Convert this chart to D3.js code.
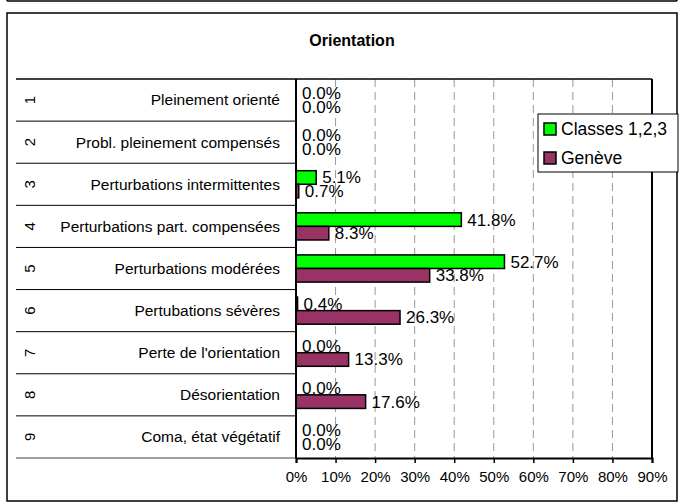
<!DOCTYPE html>
<html>
<head>
<meta charset="utf-8">
<script src="https://cdn.jsdelivr.net/npm/d3@7"></script>
<style>
  body { margin: 0; background: #fff; }
  svg { font-family: "Liberation Sans", Arial, sans-serif; }
</style>
</head>
<body>
<div id="chart"></div>
<script>
const F_WIDTH = 680;
const F_HEIGHT = 504;
const PLOT = {left: 296, right: 652, top: 79, bottom: 458};

// data
const NUMBERS = ["1", "2", "3", "4", "5", "6", "7", "8", "9"];
const CATEGORIES = ["Pleinement orienté", "Probl. pleinement compensés", "Perturbations intermittentes",
  "Perturbations part. compensées", "Perturbations modérées", "Pertubations sévères",
  "Perte de l'orientation", "Désorientation", "Coma, état végétatif"];
const SERIES = ["Classes 1,2,3", "Genève"];
const CLASSES = [0.0, 0.0, 5.1, 41.8, 52.7, 0.4, 0.0, 0.0, 0.0];
const GENEVE = [0.0, 0.0, 0.7, 8.3, 33.8, 26.3, 13.3, 17.6, 0.0];
const X_TICKS = [0, 10, 20, 30, 40, 50, 60, 70, 80, 90];

const COLORS = d3.scaleOrdinal()
        .domain(SERIES)
        .range(["#00ff00", "#993366"]);

const FRAME = d3.select("#chart")
            .append("svg")
              .attr("width", F_WIDTH)
              .attr("height", F_HEIGHT);

// bits of the frames
FRAME.append("line")
    .attr("x1", 7).attr("x2", 677).attr("y1", 1).attr("y2", 1)
    .attr("stroke", "#000").attr("stroke-width", 1.5);
FRAME.append("line")
    .attr("x1", 7).attr("x2", 7).attr("y1", 0).attr("y2", 1)
    .attr("stroke", "#000").attr("stroke-width", 1.5);
FRAME.append("line")
    .attr("x1", 677).attr("x2", 677).attr("y1", 0).attr("y2", 1)
    .attr("stroke", "#000").attr("stroke-width", 1.5);
FRAME.append("rect")
    .attr("x", 7).attr("y", 13)
    .attr("width", 670).attr("height", 488)
    .attr("fill", "#fff")
    .attr("stroke", "#000").attr("stroke-width", 1.5);

// title
FRAME.append("text")
    .attr("x", 352).attr("y", 46)
    .attr("text-anchor", "middle")
    .style("font-weight", "bold")
    .style("font-size", "16px")
    .text("Orientation");

const X_SCALE = d3.scaleLinear()
          .domain([0, 90])
          .range([PLOT.left, PLOT.right]);

const Y_SCALE = d3.scaleBand()
          .domain(CATEGORIES)
          .range([PLOT.top, PLOT.bottom]);

const Y_SUB = d3.scaleBand()
          .domain(SERIES)
          .range([0, Y_SCALE.bandwidth()])
          .paddingInner(0)
          .paddingOuter(0.55);

// dashed gridlines
FRAME.append("g")
    .selectAll("line")
    .data(X_TICKS.slice(1, -1))
    .enter()
    .append("line")
      .attr("x1", (d) => X_SCALE(d))
      .attr("x2", (d) => X_SCALE(d))
      .attr("y1", PLOT.top)
      .attr("y2", PLOT.bottom)
      .attr("stroke", "#999")
      .attr("stroke-width", 1)
      .attr("stroke-dasharray", "8,5");

// left table: row separators
FRAME.append("g")
    .selectAll("line")
    .data(CATEGORIES.slice(1))
    .enter()
    .append("line")
      .attr("x1", 16)
      .attr("x2", PLOT.left)
      .attr("y1", (d) => Y_SCALE(d))
      .attr("y2", (d) => Y_SCALE(d))
      .attr("stroke", "#000")
      .attr("stroke-width", 1);

FRAME.append("line")
    .attr("x1", 16).attr("x2", PLOT.right)
    .attr("y1", PLOT.top).attr("y2", PLOT.top)
    .attr("stroke", "#000").attr("stroke-width", 1.5);

FRAME.append("line")
    .attr("x1", 16).attr("x2", PLOT.left)
    .attr("y1", PLOT.bottom).attr("y2", PLOT.bottom)
    .attr("stroke", "#808080").attr("stroke-width", 1.5);

// category names
FRAME.append("g")
    .selectAll("text")
    .data(CATEGORIES)
    .enter()
    .append("text")
      .attr("x", 280)
      .attr("y", (d) => Y_SCALE(d) + Y_SCALE.bandwidth() / 2)
      .attr("dy", "0.35em")
      .attr("text-anchor", "end")
      .style("font-size", "15.5px")
      .text((d) => d);

// rotated row numbers
FRAME.append("g")
    .selectAll("text")
    .data(NUMBERS)
    .enter()
    .append("text")
      .attr("transform", (d, i) => "translate(30," + (Y_SCALE(CATEGORIES[i]) + Y_SCALE.bandwidth() / 2) + ") rotate(-90)")
      .attr("dy", "0.35em")
      .attr("text-anchor", "middle")
      .style("font-size", "15px")
      .text((d) => d);

// bars
const ROWS = CATEGORIES.map((c, i) => ({cat: c, values: [
  {series: SERIES[0], value: CLASSES[i]},
  {series: SERIES[1], value: GENEVE[i]}
]}));

const GROUPS = FRAME.append("g")
    .selectAll("g")
    .data(ROWS)
    .enter()
    .append("g")
      .attr("transform", (d) => "translate(0," + Y_SCALE(d.cat) + ")");

GROUPS.selectAll("rect")
    .data((d) => d.values.filter((v) => v.value > 0))
    .enter()
    .append("rect")
      .attr("x", X_SCALE(0))
      .attr("y", (d) => Y_SUB(d.series))
      .attr("width", (d) => X_SCALE(d.value) - X_SCALE(0))
      .attr("height", Y_SUB.bandwidth())
      .attr("fill", (d) => COLORS(d.series))
      .attr("stroke", "#000")
      .attr("stroke-width", 1.5);

GROUPS.selectAll("text")
    .data((d) => d.values)
    .enter()
    .append("text")
      .attr("x", (d) => X_SCALE(d.value) + 6)
      .attr("y", (d) => Y_SUB(d.series) + Y_SUB.bandwidth() / 2)
      .attr("dy", "0.35em")
      .style("font-size", "17px")
      .text((d) => d.value.toFixed(1) + "%");

// axes frame: left, bottom, right
FRAME.append("line")
    .attr("x1", PLOT.left).attr("x2", PLOT.left)
    .attr("y1", PLOT.top).attr("y2", PLOT.bottom)
    .attr("stroke", "#000").attr("stroke-width", 2);
FRAME.append("line")
    .attr("x1", PLOT.right).attr("x2", PLOT.right)
    .attr("y1", PLOT.top).attr("y2", PLOT.bottom)
    .attr("stroke", "#000").attr("stroke-width", 2);

const X_AXIS = FRAME.append("g")
    .attr("transform", "translate(0," + PLOT.bottom + ")")
    .call(d3.axisBottom(X_SCALE)
      .tickValues(X_TICKS)
      .tickSize(5)
      .tickPadding(8)
      .tickFormat((d) => d + "%"));

X_AXIS.select(".domain").attr("stroke", "#000").attr("stroke-width", 2);
X_AXIS.selectAll(".tick line").attr("stroke", "#000").attr("stroke-width", 1.5);
X_AXIS.selectAll(".tick text")
    .style("font-size", "15px")
    .style("font-family", "'Liberation Sans', Arial, sans-serif")
    .attr("fill", "#000");

// legend
const LEGEND = FRAME.append("g")
    .attr("transform", "translate(538,114)");

LEGEND.append("rect")
    .attr("width", 140).attr("height", 58)
    .attr("fill", "#fff")
    .attr("stroke", "#000").attr("stroke-width", 1);

LEGEND.selectAll("rect.key")
    .data(SERIES)
    .enter()
    .append("rect")
      .attr("class", "key")
      .attr("x", 6)
      .attr("y", (d, i) => 9 + i * 29)
      .attr("width", 12).attr("height", 12)
      .attr("fill", (d) => COLORS(d))
      .attr("stroke", "#000").attr("stroke-width", 1.5);

LEGEND.selectAll("text")
    .data(SERIES)
    .enter()
    .append("text")
      .attr("x", 23)
      .attr("y", (d, i) => 15 + i * 29)
      .attr("dy", "0.35em")
      .style("font-size", "17.5px")
      .text((d) => d);
</script>
</body>
</html>
